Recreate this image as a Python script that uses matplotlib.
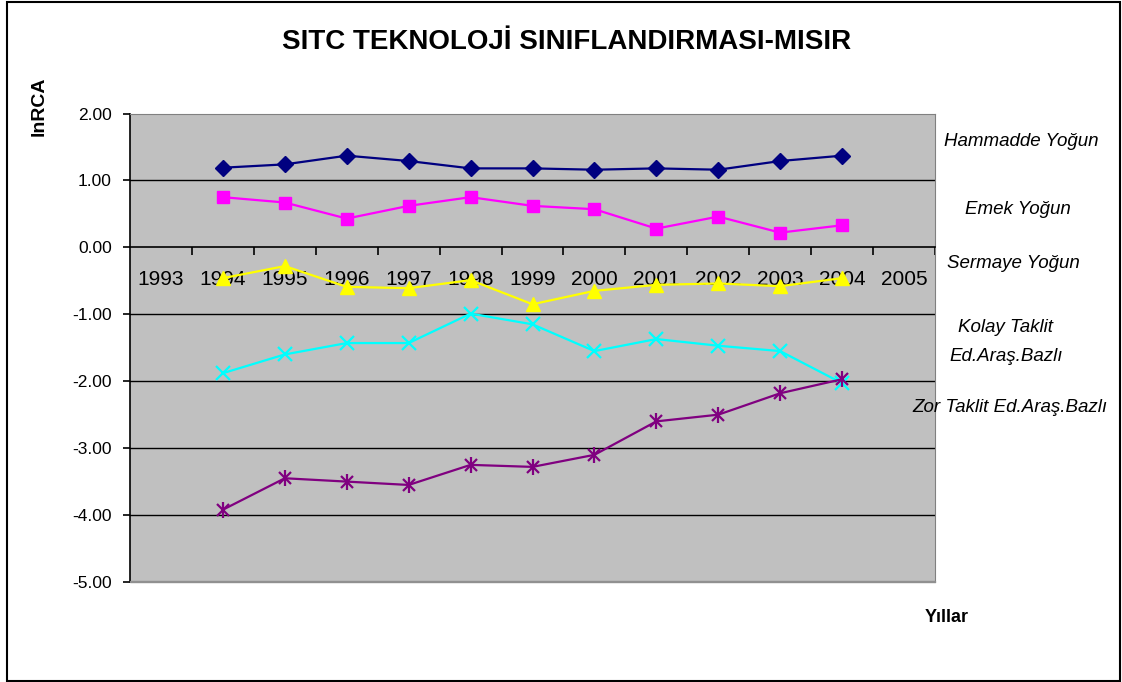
import matplotlib
matplotlib.use("Agg")
import matplotlib.pyplot as plt
from matplotlib.patches import Rectangle
from matplotlib.ticker import FixedLocator

plt.rcParams['font.family'] = ['Liberation Sans', 'DejaVu Sans']

years_axis = list(range(1993, 2006))
years = list(range(1994, 2005))

hammadde = [1.19, 1.24, 1.37, 1.29, 1.18, 1.18, 1.16, 1.18, 1.16, 1.29, 1.37]
emek = [0.75, 0.67, 0.43, 0.62, 0.75, 0.62, 0.57, 0.28, 0.46, 0.22, 0.33]
sermaye = [-0.46, -0.28, -0.59, -0.61, -0.49, -0.85, -0.65, -0.56, -0.54, -0.58, -0.46]
kolay = [-1.88, -1.60, -1.43, -1.43, -0.99, -1.15, -1.55, -1.37, -1.47, -1.55, -2.03]
zor = [-3.92, -3.45, -3.50, -3.55, -3.25, -3.28, -3.10, -2.60, -2.50, -2.18, -1.97]

labels = ["Hammadde Yoğun", "Emek Yoğun", "Sermaye Yoğun",
          "Kolay Taklit\nEd.Araş.Bazlı", "Zor Taklit Ed.Araş.Bazlı"]

W, H = 1122, 682
fig = plt.figure(figsize=(W / 100, H / 100), dpi=100)
fig.patch.set_facecolor('white')

# outer frame of the chart
fig.patches.append(Rectangle((7 / W, 1 / H), (1120 - 7) / W, (680 - 1) / H,
                             transform=fig.transFigure, fill=False,
                             edgecolor='black', linewidth=1.5))

ax = fig.add_axes([130 / W, 1 - 582 / H, (935 - 130) / W, (582 - 113.5) / H])
ax.set_facecolor('#C0C0C0')
ax.set_xlim(1992.5, 2005.5)
ax.set_ylim(-5, 2)

for v in [1, -1, -2, -3, -4]:
    ax.axhline(v, color='black', linewidth=1.0, zorder=1)

ax.plot(years, hammadde, color='#000080', linewidth=1.6, marker='D', markersize=8, zorder=3)
ax.plot(years, emek, color='#FF00FF', linewidth=1.6, marker='s', markersize=8.5, zorder=3)
ax.plot(years, sermaye, color='#FFFF00', linewidth=1.6, marker='^', markersize=9.5, zorder=3)
ax.plot(years, kolay, color='#00FFFF', linewidth=1.6, marker='x', markersize=10,
        markeredgewidth=1.6, zorder=3)
ax.plot(years, zor, color='#800080', linewidth=1.6, marker='x', markersize=9,
        markeredgewidth=1.6, zorder=3)
ax.plot(years, zor, color='#800080', linestyle='none', marker='|', markersize=11,
        markeredgewidth=1.6, zorder=3)

# spines
ax.spines['bottom'].set_position(('data', 0))
ax.spines['bottom'].set_color('black')
ax.spines['bottom'].set_linewidth(1.2)
ax.spines['left'].set_color('black')
ax.spines['left'].set_linewidth(1.2)
ax.spines['top'].set_color('#808080')
ax.spines['right'].set_color('#808080')
ax.add_patch(Rectangle((0, 0), 1, 0.002, transform=ax.transAxes, color='#909090',
                       zorder=4, clip_on=False))

ax.set_yticks([2, 1, 0, -1, -2, -3, -4, -5])
ax.set_yticklabels([f"{v:.2f}" for v in [2, 1, 0, -1, -2, -3, -4, -5]])
ax.tick_params(axis='y', direction='out', length=5, width=1.2, pad=8, labelsize=12.5)

ax.set_xticks(years_axis)
ax.set_xticklabels([str(y) for y in years_axis])
ax.xaxis.set_minor_locator(FixedLocator([y + 0.5 for y in years_axis]))
ax.tick_params(axis='x', which='major', length=0, pad=16, labelsize=15)
ax.tick_params(axis='x', which='minor', direction='out', length=6, width=1.2)

fig.text(567 / W, 1 - 42 / H, "SITC TEKNOLOJİ SINIFLANDIRMASI-MISIR",
         ha='center', va='center', fontsize=20, fontweight='bold')
fig.text(39.5 / W, 1 - 106 / H, "lnRCA", rotation=90, ha='center', va='center',
         fontsize=14, fontweight='bold')
fig.text(947 / W, 1 - 618 / H, "Yıllar", ha='center', va='center',
         fontsize=13, fontweight='bold')

label_pos = [(1021, 142), (1018, 210), (1013, 263), (1006, 342), (1010, 407)]
for (px, py), lab in zip(label_pos, labels):
    fig.text(px / W, 1 - py / H, lab, ha='center', va='center', fontsize=13.5,
             style='italic', linespacing=1.85)

fig.savefig("out.png", dpi=100)
